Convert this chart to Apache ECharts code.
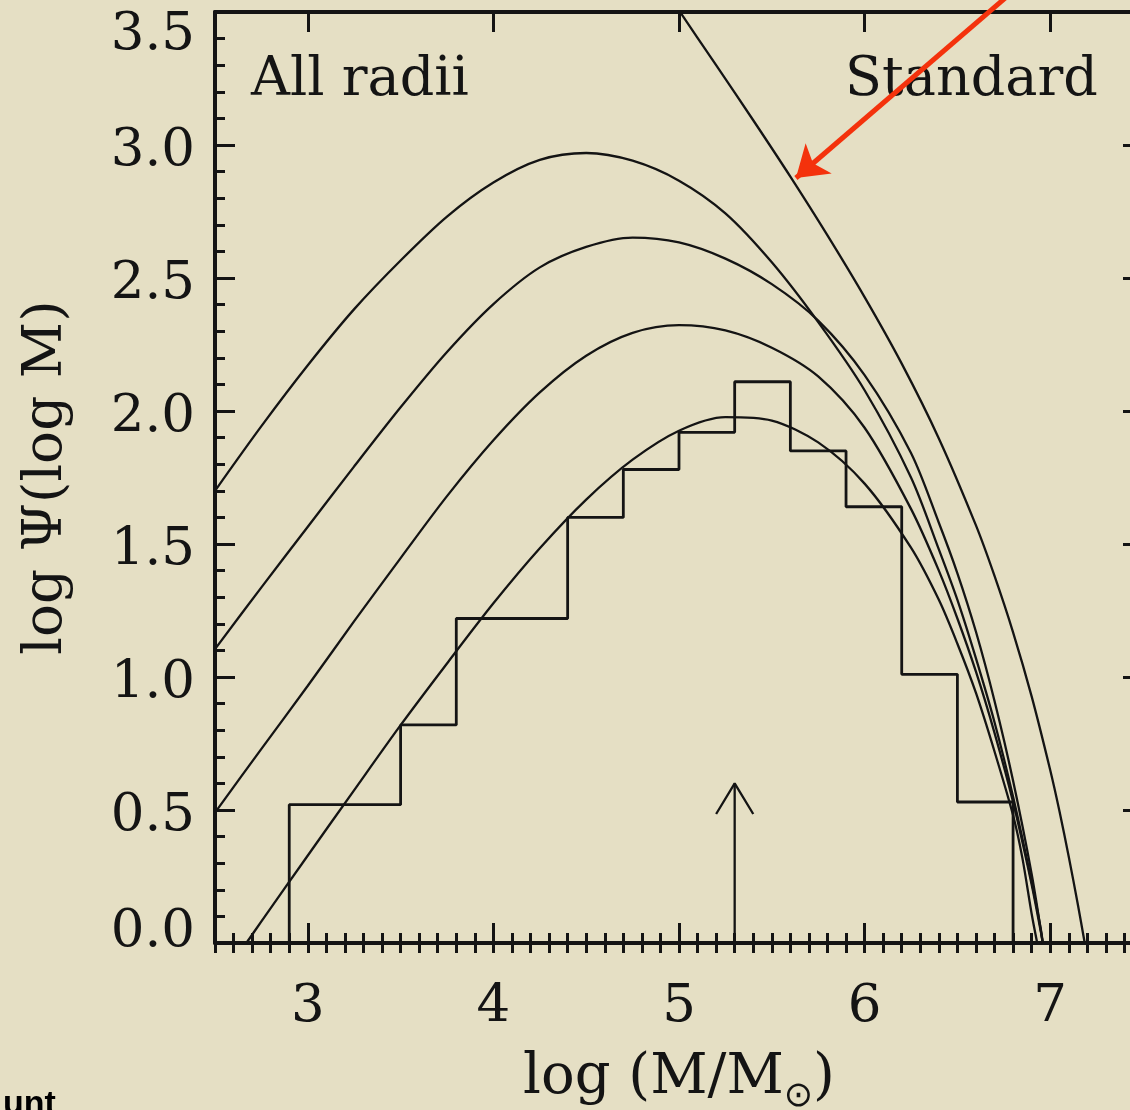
<!DOCTYPE html>
<html><head><meta charset="utf-8">
<script src="https://cdn.jsdelivr.net/npm/echarts@6/dist/echarts.min.js"></script>
<style>
html,body{margin:0;padding:0;overflow:hidden;background:#e5dfc4;width:1130px;height:1110px}
#c{width:1160px;height:1110px}
</style></head>
<body><div id="c"></div>
<script>
// ---- data ----
const xMajorTicks = [3, 4, 5, 6, 7];
const histEdges = [2.9, 3.2, 3.5, 3.8, 4.1, 4.4, 4.7, 5.0, 5.3, 5.6, 5.9, 6.2, 6.5, 6.8];
const histLogN  = [0.52, 0.52, 0.82, 1.22, 1.22, 1.60, 1.78, 1.92, 2.11, 1.85, 1.64, 1.01, 0.53];

// initial (standard) mass function
const curveA = [[4.95,3.56],[5.0,3.506],[5.2,3.30],[5.4,3.093],[5.6,2.881],[5.8,2.66],[6.0,2.428],
  [6.2,2.178],[6.4,1.897],[6.6,1.57],[6.7,1.38],[6.8,1.168],[6.9,0.927],[7.0,0.65],[7.05,0.495],
  [7.1,0.324],[7.15,0.141],[7.186,0.0]];
// evolved curves (top to bottom at left edge)
const curveB = [[2.5,1.70],[2.75,1.943],[3.0,2.172],[3.25,2.383],[3.5,2.566],[3.75,2.731],[4.0,2.859],
  [4.25,2.944],[4.5,2.970],[4.75,2.941],[5.0,2.866],[5.25,2.743],[5.5,2.559],[5.75,2.334],[6.0,2.078],
  [6.25,1.750],[6.4,1.48],[6.5,1.29],[6.6,1.07],[6.7,0.83],[6.8,0.55],[6.9,0.23],[6.95,0.05],[6.96,0.0]];
const curveC = [[2.5,1.105],[2.75,1.337],[3.0,1.565],[3.25,1.792],[3.5,2.014],[3.75,2.222],[4.0,2.402],
  [4.25,2.540],[4.5,2.617],[4.75,2.652],[5.0,2.634],[5.25,2.573],[5.5,2.477],[5.75,2.340],[6.0,2.135],
  [6.25,1.842],[6.4,1.58],[6.5,1.39],[6.6,1.17],[6.7,0.91],[6.8,0.61],[6.9,0.26],[6.96,0.0]];
const curveD = [[2.5,0.49],[2.75,0.73],[3.0,0.967],[3.25,1.21],[3.5,1.447],[3.75,1.68],[4.0,1.89],
  [4.25,2.07],[4.5,2.208],[4.75,2.294],[5.0,2.323],[5.25,2.303],[5.5,2.238],[5.75,2.13],[6.0,1.937],
  [6.25,1.632],[6.4,1.40],[6.5,1.22],[6.6,1.02],[6.7,0.79],[6.8,0.53],[6.9,0.22],[6.95,0.04],[6.96,0.0]];
const curveE = [[2.669,0.0],[2.75,0.081],[3.0,0.329],[3.25,0.575],[3.5,0.819],[3.75,1.051],[4.0,1.277],
  [4.25,1.484],[4.5,1.667],[4.75,1.817],[5.0,1.926],[5.25,1.977],[5.5,1.964],[5.75,1.882],[6.0,1.727],
  [6.25,1.486],[6.4,1.29],[6.5,1.125],[6.6,0.94],[6.7,0.72],[6.8,0.48],[6.85,0.32],[6.9,0.11],[6.93,0.0]];

// black arrow (median mass marker) and red annotation arrow
const medianArrowShaft = [[5.30,0.0],[5.30,0.60]];
const medianArrowHead  = [[5.20,0.485],[5.30,0.60],[5.40,0.485]];
const redArrow = [[6.87,3.62],[5.63,2.876]];

// ---- build ----
const histPath = [[histEdges[0], 0]];
for (let i = 0; i < histLogN.length; i++) {
  histPath.push([histEdges[i], histLogN[i]]);
  histPath.push([histEdges[i+1], histLogN[i]]);
}
histPath.push([histEdges[histEdges.length-1], 0]);

const FONT = '"DejaVu Serif", "Liberation Serif", serif';
const INK = '#141414';
const chart = echarts.init(document.getElementById('c'), null, {renderer: 'canvas'});

function xAxisPair(pos, withLabels) {
  const main = {
    type: 'value', position: pos, min: 2.5, max: 7.5,
    axisLine: {show: true, onZero: false, lineStyle: {color: INK, width: 4}},
    axisTick: {show: true, inside: true, length: 20, customValues: xMajorTicks, lineStyle: {color: INK, width: 3}},
    axisLabel: withLabels ? {show: true, customValues: xMajorTicks, fontFamily: FONT, fontSize: 53, color: INK, margin: 38} : {show: false},
    splitLine: {show: false}
  };
  if (withLabels) {
    main.name = 'log (M/M{sub|⊙})';
    main.nameLocation = 'middle';
    main.nameGap = 100;
    main.nameTextStyle = {fontFamily: FONT, fontSize: 56, color: INK,
      rich: {sub: {fontFamily: '"DejaVu Sans", sans-serif', fontSize: 35, color: INK, padding: [36, 0, 0, 0]}}};
  }
  const minor = {
    type: 'value', position: pos, min: 2.5, max: 7.5, interval: 0.1,
    axisLine: {show: false},
    axisTick: {show: true, inside: true, length: 10, lineStyle: {color: INK, width: 3}},
    axisLabel: {show: false}, splitLine: {show: false}
  };
  return [main, minor];
}

function yAxis(pos, withLabels) {
  const ax = {
    type: 'value', position: pos, min: 0, max: 3.5, interval: 0.5,
    axisLine: {show: true, onZero: false, lineStyle: {color: INK, width: 4}},
    axisTick: {show: true, inside: true, length: 20, lineStyle: {color: INK, width: 3}},
    minorTick: {show: true, splitNumber: 5, length: 10, lineStyle: {color: INK, width: 3}},
    splitLine: {show: false}, minorSplitLine: {show: false},
    axisLabel: withLabels ? {
      show: true, fontFamily: FONT, fontSize: 53, color: INK, margin: 20, padding: [12, 0, 0, 0],
      formatter: v => v === 3.5 ? '{low|3.5}' : (v === 0 ? '{high|0.0}' : v.toFixed(1)),
      rich: {
        low: {fontFamily: FONT, fontSize: 53, color: INK, padding: [34, 0, 0, 0]},
        high: {fontFamily: FONT, fontSize: 53, color: INK, padding: [0, 0, 34, 0]}
      }
    } : {show: false}
  };
  if (withLabels) {
    ax.name = 'log Ψ(log M)';
    ax.nameLocation = 'middle';
    ax.nameGap = 141;
    ax.nameTextStyle = {fontFamily: FONT, fontSize: 55, color: INK};
  }
  return ax;
}

function curve(data) {
  return {type: 'line', data: data, showSymbol: false, smooth: 0.3, xAxisIndex: 0, yAxisIndex: 0,
    lineStyle: {color: INK, width: 2.3}, clip: true, silent: true, z: 3};
}

chart.setOption({
  backgroundColor: '#e5dfc4',
  animation: false,
  grid: {left: 215, right: 17, top: 12, bottom: 167, containLabel: false, outerBoundsMode: 'none'},
  xAxis: [...xAxisPair('bottom', true), ...xAxisPair('top', false)],
  yAxis: [yAxis('left', true), yAxis('right', false)],
  graphic: [
    {type: 'text', left: 251, top: 54, style: {text: 'All radii', font: '54px ' + FONT, fill: INK}},
    {type: 'text', left: 845, top: 54, style: {text: 'Standard', font: '54px ' + FONT, fill: INK}},
    {type: 'text', left: 3, top: 1088, style: {text: 'unt', font: 'bold 34px "Liberation Sans", Arial, sans-serif', fill: '#000'}}
  ],
  series: [
    curve(curveA), curve(curveB), curve(curveC), curve(curveD), curve(curveE),
    {type: 'line', data: histPath, showSymbol: false, xAxisIndex: 0, yAxisIndex: 0,
      lineStyle: {color: INK, width: 2.8}, silent: true, z: 3},
    {type: 'line', data: medianArrowShaft, showSymbol: false, lineStyle: {color: INK, width: 2.3}, silent: true},
    {type: 'line', data: medianArrowHead, showSymbol: false, lineStyle: {color: INK, width: 2.3}, silent: true},
    {type: 'lines', coordinateSystem: 'cartesian2d', xAxisIndex: 0, yAxisIndex: 0, clip: false, silent: true,
      symbol: ['none', 'arrow'], symbolSize: 30,
      lineStyle: {color: '#f4320c', width: 5, opacity: 1},
      data: [{coords: redArrow}], z: 10}
  ]
});
</script>
</body></html>
